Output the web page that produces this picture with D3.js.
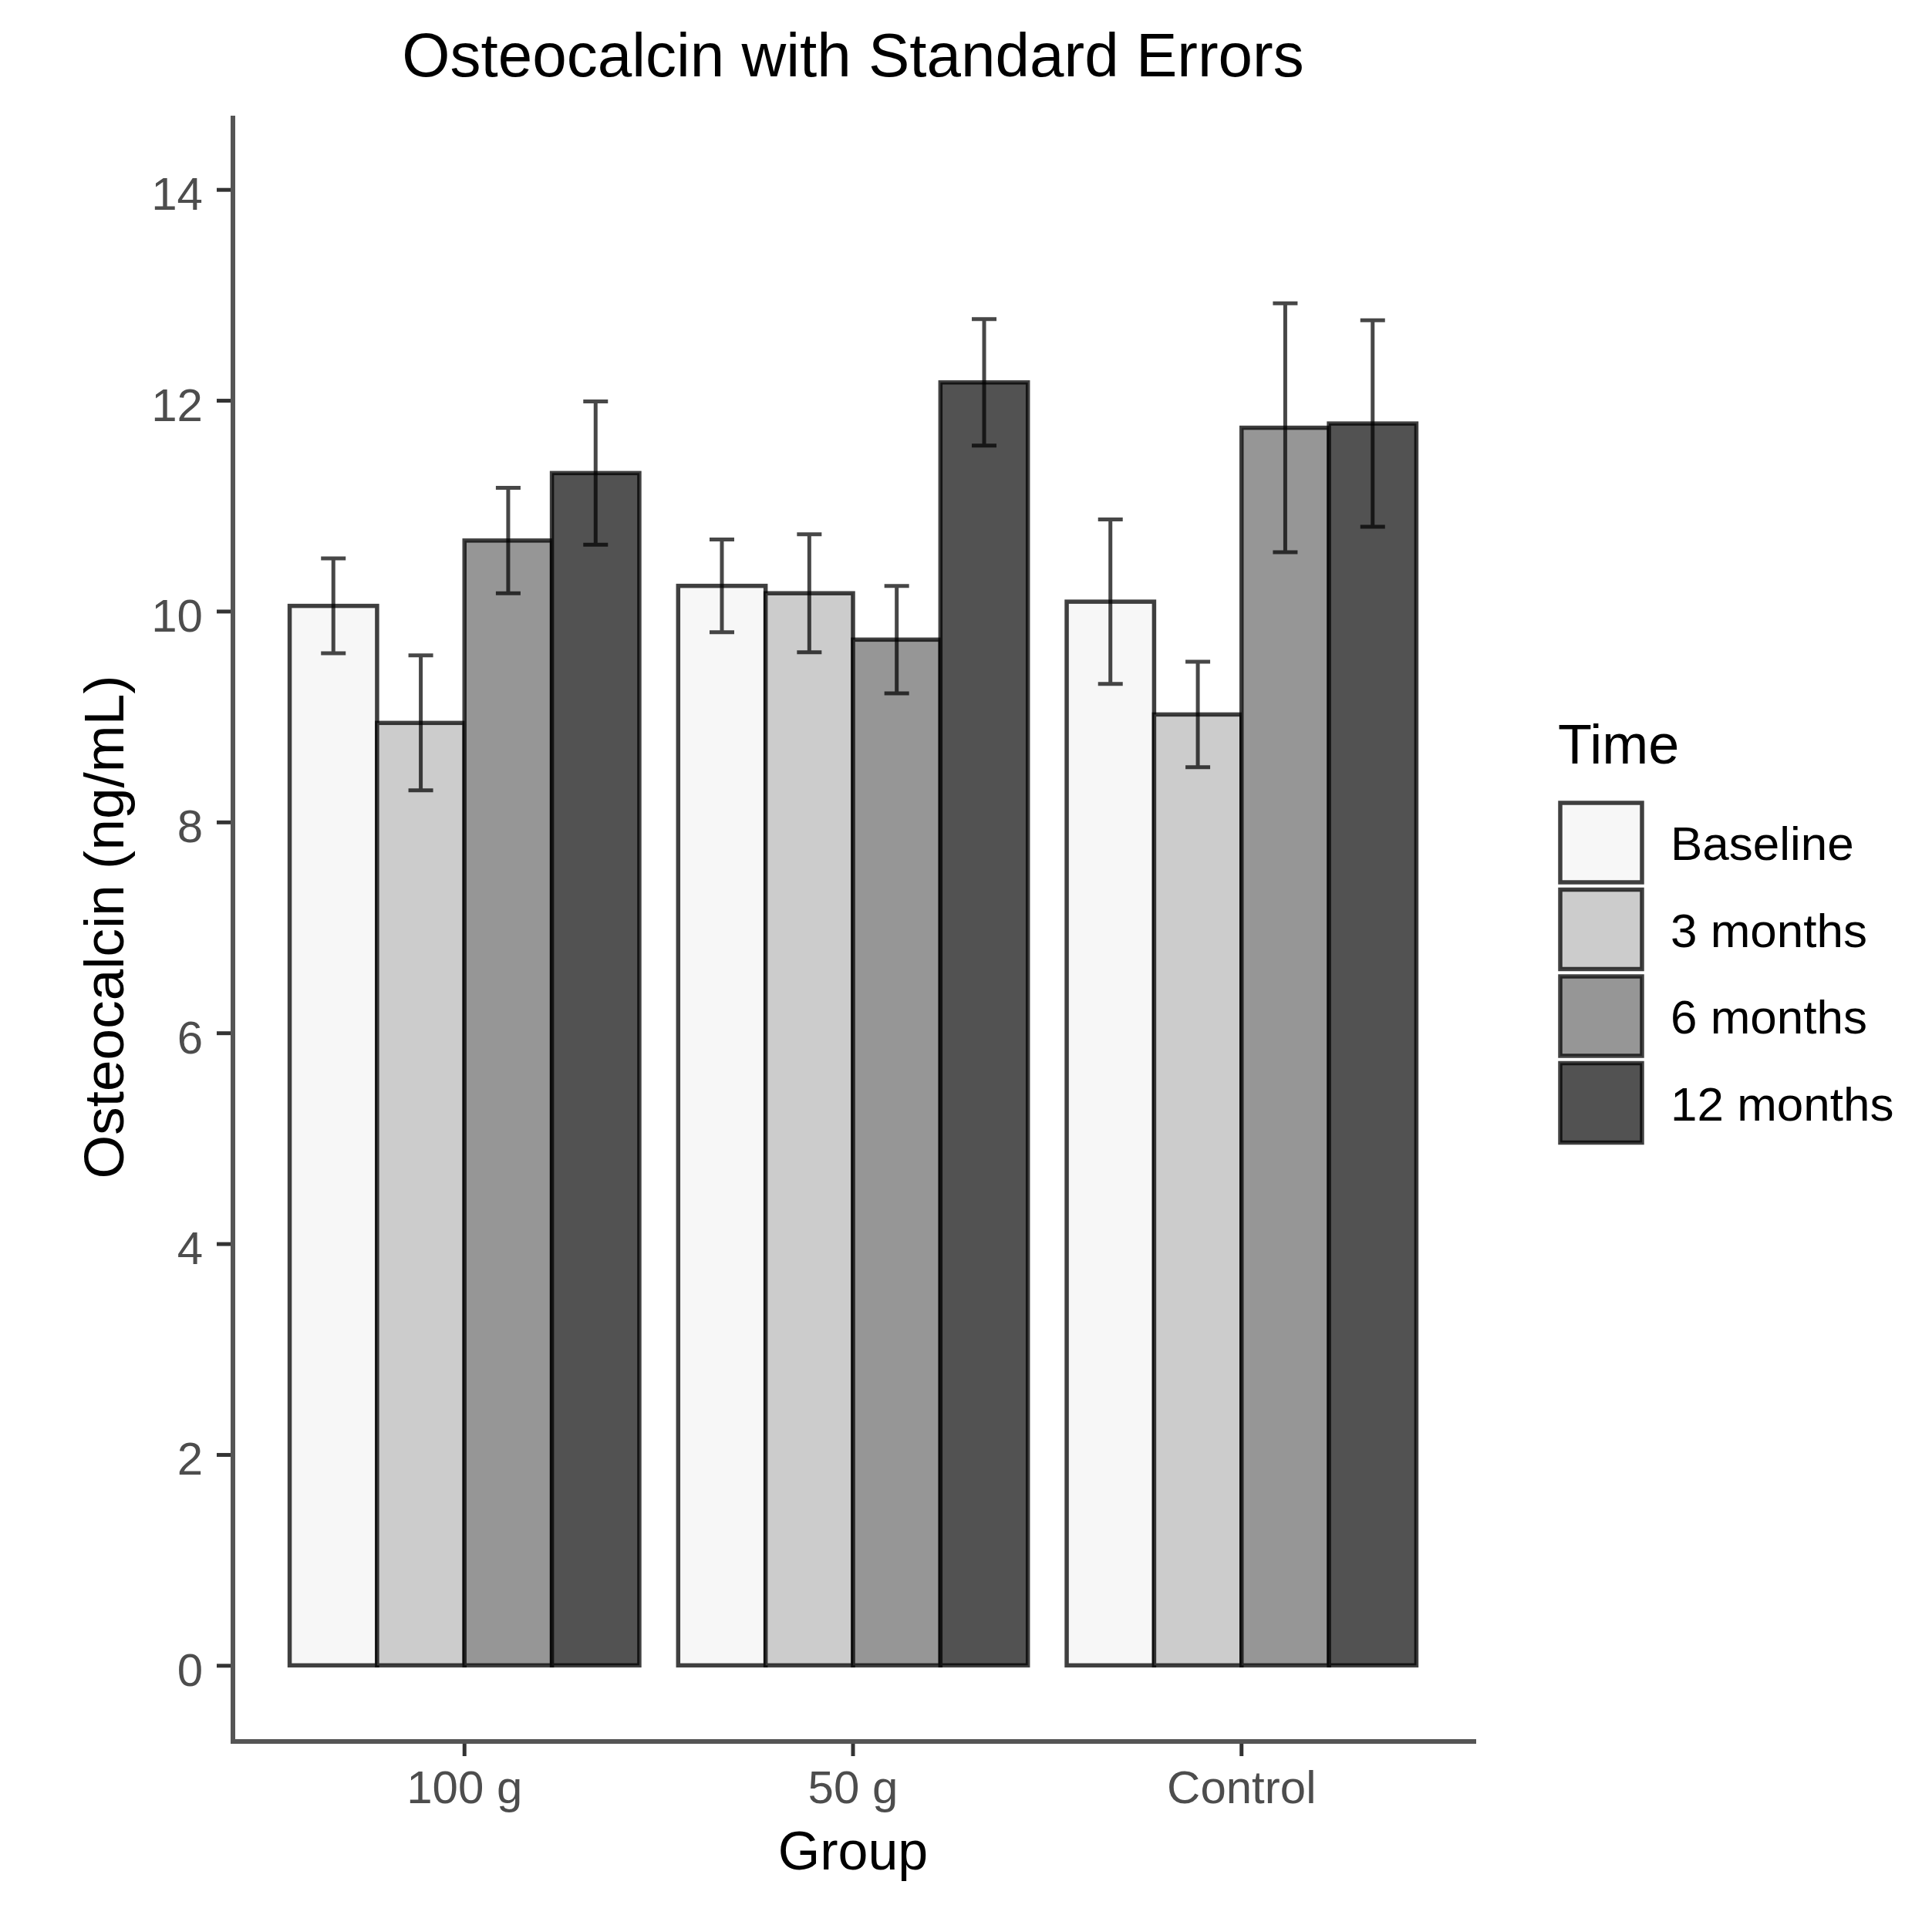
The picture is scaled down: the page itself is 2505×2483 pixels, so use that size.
<!DOCTYPE html>
<html>
<head>
<meta charset="utf-8">
<script src="https://cdn.jsdelivr.net/npm/d3@7"></script>
<style>
  html, body { margin: 0; padding: 0; background: #ffffff; }
  svg { display: block; }
  text { font-family: "Liberation Sans", Arial, sans-serif; }
</style>
</head>
<body>
<div id="chart"></div>
<script>
// ---- data ----
const groups = ["100 g", "50 g", "Control"];
const times = ["Baseline", "3 months", "6 months", "12 months"];
const meanBaseline = [10.05, 10.24, 10.09];
const mean3m       = [8.94, 10.17, 9.02];
const mean6m       = [10.67, 9.73, 11.74];
const mean12m      = [11.31, 12.17, 11.78];
const seBaseline   = [0.45, 0.44, 0.78];
const se3m         = [0.64, 0.56, 0.50];
const se6m         = [0.50, 0.51, 1.18];
const se12m        = [0.68, 0.60, 0.98];
const yTicks = [0, 2, 4, 6, 8, 10, 12, 14];
const fills = ["#F7F7F7", "#CCCCCC", "#969696", "#525252"];

const meansByTime = [meanBaseline, mean3m, mean6m, mean12m];
const seByTime = [seBaseline, se3m, se6m, se12m];
const rows = [];
groups.forEach((g, gi) => {
  times.forEach((t, ti) => {
    rows.push({ group: g, time: t, mean: meansByTime[ti][gi], se: seByTime[ti][gi] });
  });
});

// ---- layout ----
const W = 2505, H = 2483;
const svg = d3.select("#chart").append("svg").attr("width", W).attr("height", H);

const x = d3.scaleBand().domain(groups).range([300, 1912]).paddingInner(0).paddingOuter(0.1);
const dodge = d3.scaleBand().domain(times).range([0, x.bandwidth() * 0.9]);
const y = d3.scaleLinear().domain([-0.7, 14.7]).range([2255, 150]);

const left = 302, bottom = 2258;

// bars
const barG = svg.append("g");
barG.selectAll("rect").data(rows).join("rect")
  .attr("x", d => x(d.group) + x.bandwidth() * 0.05 + dodge(d.time))
  .attr("y", d => y(d.mean))
  .attr("width", dodge.bandwidth())
  .attr("height", d => y(0) - y(d.mean))
  .attr("fill", d => fills[times.indexOf(d.time)])
  .attr("stroke", "#000")
  .attr("stroke-opacity", 0.75)
  .attr("stroke-width", 5.5);

// error bars
const errG = svg.append("g").attr("stroke", "#000").attr("stroke-opacity", 0.72).attr("stroke-width", 5);
const cx = d => x(d.group) + x.bandwidth() * 0.05 + dodge(d.time) + dodge.bandwidth() / 2;
const wh = 16;
rows.forEach(d => {
  const c = cx(d), yt = y(d.mean + d.se), yb = y(d.mean - d.se);
  errG.append("path").attr("fill", "none")
    .attr("d", `M${c - wh},${yt}H${c + wh}M${c},${yt}V${yb}M${c - wh},${yb}H${c + wh}`);
});

// y axis
const yAxis = svg.append("g").attr("transform", `translate(${left},0)`)
  .call(d3.axisLeft(y).tickValues(yTicks).tickSize(21).tickPadding(0).tickFormat(d3.format("d")));
yAxis.select(".domain").remove();
yAxis.selectAll(".tick line").attr("stroke", "#333").attr("stroke-width", 5);
yAxis.selectAll(".tick text").attr("x", -39).attr("dy", "0.35em").attr("transform", "translate(0,5)")
  .attr("fill", "#4D4D4D").style("font-size", "60px")
  .style("font-family", "'Liberation Sans', Arial, sans-serif");

// x axis
const xAxis = svg.append("g").attr("transform", `translate(0,${bottom})`)
  .call(d3.axisBottom(x).tickSize(19).tickPadding(0));
xAxis.select(".domain").remove();
xAxis.selectAll(".tick line").attr("stroke", "#333").attr("stroke-width", 5);
xAxis.selectAll(".tick text").attr("y", 80).attr("dy", 0)
  .attr("fill", "#4D4D4D").style("font-size", "60px")
  .style("font-family", "'Liberation Sans', Arial, sans-serif");

// axis lines
svg.append("path").attr("fill", "none").attr("stroke", "#555").attr("stroke-width", 6)
  .attr("d", `M${left},${y(14.7)}V${bottom}H1914`);

// titles
svg.append("text").attr("x", 1106).attr("y", 99).attr("text-anchor", "middle")
  .style("font-size", "80px").attr("fill", "#000").text("Osteocalcin with Standard Errors");
svg.append("text").attr("x", 1106).attr("y", 2424).attr("text-anchor", "middle")
  .style("font-size", "70px").attr("fill", "#000").text("Group");
svg.append("text").attr("transform", "translate(160,1202) rotate(-90)").attr("text-anchor", "middle")
  .style("font-size", "73px").attr("fill", "#000").text("Osteocalcin (ng/mL)");

// legend
const lg = svg.append("g");
lg.append("text").attr("x", 2020).attr("y", 990).style("font-size", "72px").attr("fill", "#000").text("Time");
times.forEach((t, i) => {
  const top = 1041 + i * 112.5;
  lg.append("rect").attr("x", 2023).attr("y", top).attr("width", 106).attr("height", 103)
    .attr("fill", fills[i]).attr("stroke", "#000").attr("stroke-opacity", 0.75).attr("stroke-width", 5.5);
  lg.append("text").attr("x", 2166).attr("y", top + 51 + 23).style("font-size", "62px")
    .attr("fill", "#000").text(t);
});
</script>
</body>
</html>
